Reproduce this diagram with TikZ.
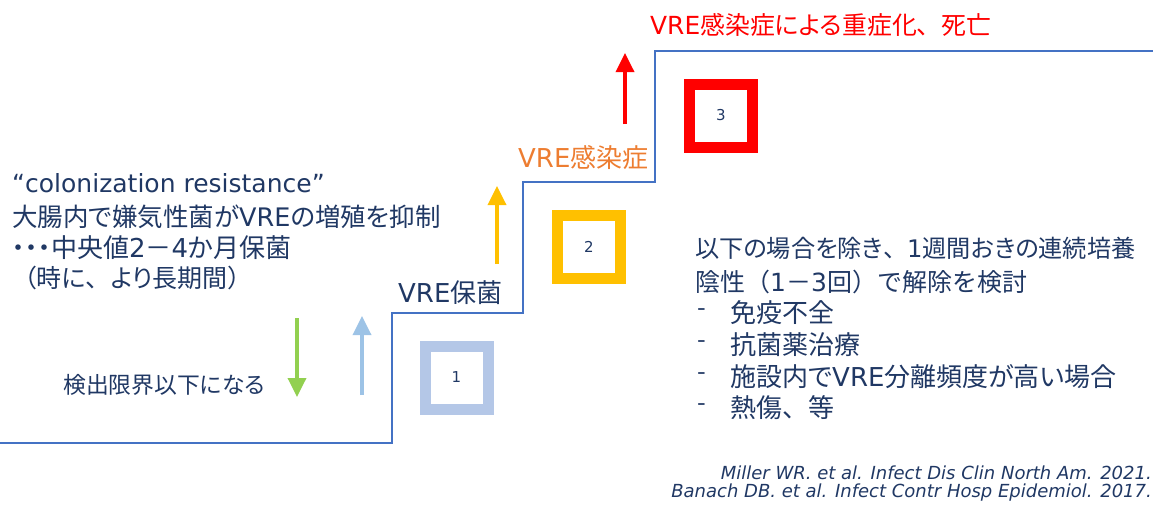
\documentclass[tikz,border=0pt]{standalone}
\usepackage{fontspec}
\usetikzlibrary{arrows.meta}
\newfontfamily\jp{Noto Sans CJK JP}
\newfontfamily\jpp{Noto Sans CJK JP}[RawFeature=+palt]
\newfontfamily\dv{DejaVu Sans}
\newcommand\Lt[1]{{\dv #1}}
\newcommand\Fw[1]{{\jp #1}}
\newcommand\fs[1]{\fontsize{#1}{#1}\selectfont}
\definecolor{navy}{RGB}{32,56,100}
\definecolor{stairblue}{RGB}{68,114,196}
\definecolor{boxblue}{RGB}{180,199,231}
\definecolor{arrowblue}{RGB}{157,195,230}
\definecolor{arrowgreen}{RGB}{146,208,80}
\definecolor{gold}{RGB}{255,192,0}
\definecolor{orangetext}{RGB}{237,125,49}
\definecolor{brightred}{RGB}{255,0,0}
\tikzset{
  stair/.style={draw=stairblue, line width=2pt},
  jtext/.style={anchor=west, inner sep=0pt, text=navy, font=\jpp\fs{25}},
  ltext/.style={anchor=west, inner sep=0pt, text=navy, font=\dv\fs{25}},
  cite/.style={anchor=east, inner sep=0pt, text=navy, font=\dv\itshape\fs{18}},
  stepbox/.style={draw=#1, line width=11pt, minimum size=63pt, inner sep=0pt, text=navy, font=\dv\fs{15}},
  uparrow/.style={draw=#1, line width=3.5pt, -{Triangle[width=18pt,length=19pt]}},
}
\begin{document}
\begin{tikzpicture}[x=1pt,y=-1pt]
\useasboundingbox (0,0) rectangle (1153,504);
% staircase
\coordinate (s0) at (0,443);
\coordinate (s1) at (392,443);
\coordinate (s2) at (392,313);
\coordinate (s3) at (523,313);
\coordinate (s4) at (523,182);
\coordinate (s5) at (655,182);
\coordinate (s6) at (655,51);
\coordinate (s7) at (1155,51);
\draw[stair] (s0) -- (s1) -- (s2) -- (s3) -- (s4) -- (s5) -- (s6) -- (s7);
% boxes
\node[stepbox=boxblue] (b1) at (456.5,377.5) {1};
\node[stepbox=gold] (b2) at (589,246.5) {2};
\node[stepbox=brightred] (b3) at (721,115.5) {3};
% arrows
\coordinate (g1) at (297,318); \coordinate (g2) at (297,397);
\draw[uparrow=arrowgreen] (g1) -- (g2);
\coordinate (a1) at (362,395); \coordinate (a2) at (362,316);
\draw[uparrow=arrowblue] (a1) -- (a2);
\coordinate (o1) at (497,264); \coordinate (o2) at (497,186);
\draw[uparrow=gold] (o1) -- (o2);
\coordinate (r1) at (625,124); \coordinate (r2) at (625,53);
\draw[uparrow=brightred] (r1) -- (r2);
% left texts
\node[ltext] (q) at (12,183) {“colonization resistance”};
\node[jtext, font=\jpp\fs{25.5}] (l2) at (12,217) {大腸内で嫌気性菌が\Lt{VRE}の増殖を抑制};
\node[jtext, font=\jpp\fs{26}] (l3) at (12,248) {・・・中央値\Lt{2}－\Lt{4}か月保菌};
\node[jtext, font=\jpp\fs{25}] (l4) at (24,278) {（時に\Fw{、}より長期間）};
\node[jtext, font=\jpp\fs{22.8}] (det) at (63,385) {検出限界以下になる};
\node[jtext, font=\jpp\fs{26}] (carr) at (398,293) {\Lt{VRE}保菌};
\node[jtext, font=\jpp\fs{26}, text=orangetext] (inf) at (518,158) {\Lt{VRE}感染症};
\node[jtext, font=\jpp\fs{24.9}, text=brightred] (title) at (650,25) {\Lt{VRE}感染症による重症化\Fw{、}死亡};
% right block
\node[jtext, font=\jpp\fs{24.2}] (r1t) at (695,248) {以下の場合を除き\Fw{、}\Lt{1}週間おきの連続培養};
\node[jtext, font=\jp\fs{25}] (r2t) at (695,282) {陰性（\Lt{1}－\Lt{3}回）で解除を検討};
\node[jtext] (d1) at (697,313) {-};
\node[jtext, font=\jpp\fs{26}] (i1) at (730,313) {免疫不全};
\node[jtext] (d2) at (697,345) {-};
\node[jtext, font=\jpp\fs{26}] (i2) at (730,345) {抗菌薬治療};
\node[jtext] (d3) at (697,377) {-};
\node[jtext, font=\jpp\fs{26}] (i3) at (730,377) {施設内で\Lt{VRE}分離頻度が高い場合};
\node[jtext] (d4) at (697,408) {-};
\node[jtext, font=\jpp\fs{26}] (i4) at (730,408) {熱傷\Fw{、}等};
% citations
\node[cite] (c1) at (1152,473) {Miller WR. et al. Infect Dis Clin North Am. 2021.};
\node[cite] (c2) at (1152,493) {Banach DB. et al. Infect Contr Hosp Epidemiol. 2017.};
\end{tikzpicture}
\end{document}
